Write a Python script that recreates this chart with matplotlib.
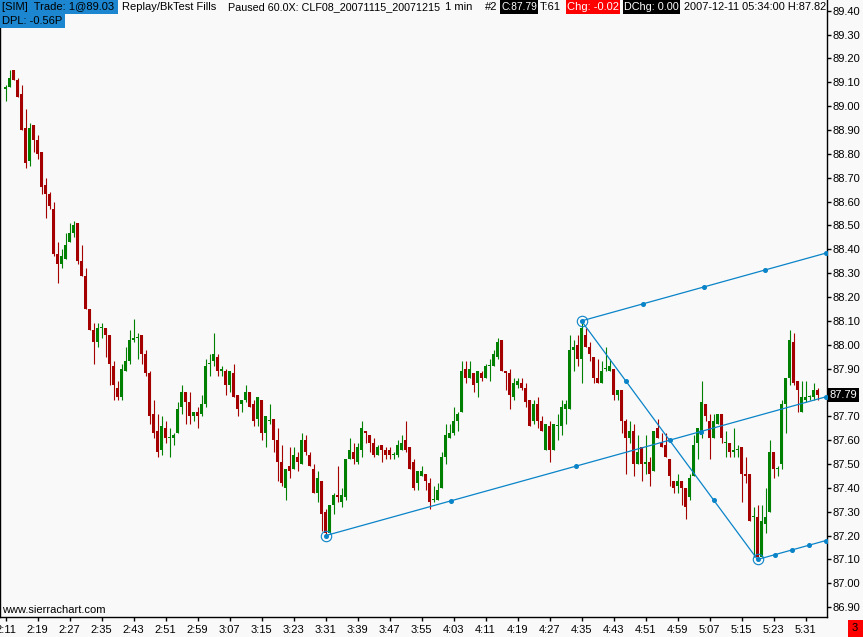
import numpy as np
import matplotlib
matplotlib.use("Agg")
import matplotlib.pyplot as plt
from matplotlib.patches import Rectangle

# CLF08 1 min bars, 2007-12-11 02:11 .. 05:34
opens = [
    89.07, 89.08, 89.15, 89.11, 89.05, 88.91, 88.77, 88.92, 88.86, 88.81,
    88.67, 88.63, 88.57, 88.38, 88.34, 88.36, 88.43, 88.47, 88.51, 88.35,
    88.29, 88.15, 88.06, 88.01, 88.07, 88.07, 88.04, 87.91, 87.82, 87.78,
    87.89, 87.93, 88.02, 88.03, 88.04, 87.96, 87.88, 87.71, 87.64, 87.56,
    87.65, 87.61, 87.61, 87.63, 87.74, 87.80, 87.76, 87.70, 87.72, 87.71,
    87.75, 87.92, 87.93, 87.95, 87.89, 87.89, 87.83, 87.88, 87.79, 87.75,
    87.77, 87.80, 87.75, 87.69, 87.77, 87.63, 87.68, 87.69, 87.60, 87.51,
    87.40, 87.49, 87.48, 87.53, 87.50, 87.60, 87.54, 87.48, 87.38, 87.43,
    87.30, 87.21, 87.33, 87.37, 87.34, 87.36, 87.52, 87.55, 87.51, 87.56,
    87.64, 87.62, 87.59, 87.54, 87.58, 87.56, 87.56, 87.54, 87.54, 87.56,
    87.60, 87.57, 87.51, 87.42, 87.45, 87.46, 87.42, 87.35, 87.35, 87.40,
    87.53, 87.61, 87.63, 87.68, 87.72, 87.90, 87.86, 87.88, 87.84, 87.88,
    87.86, 87.91, 87.91, 87.95, 88.02, 87.89, 87.88, 87.78, 87.83, 87.84,
    87.82, 87.77, 87.68, 87.75, 87.68, 87.56, 87.66, 87.56, 87.66, 87.66,
    87.73, 87.73, 87.98, 88.00, 87.94, 88.04, 87.99, 87.95, 87.86, 87.84,
    87.90, 87.89, 87.90, 87.79, 87.81, 87.68, 87.61, 87.64, 87.50, 87.57,
    87.50, 87.51, 87.47, 87.65, 87.59, 87.58, 87.52, 87.43, 87.41, 87.43,
    87.40, 87.36, 87.45, 87.59, 87.62, 87.75, 87.68, 87.61, 87.67, 87.71,
    87.59, 87.59, 87.55, 87.56, 87.57, 87.46, 87.46, 87.28, 87.28, 87.11,
    87.25, 87.30, 87.55, 87.48, 87.50, 87.75, 87.86, 88.01, 87.85, 87.72,
    87.77, 87.78, 87.78, 87.81,
]
highs = [
    89.09, 89.15, 89.15, 89.12, 89.09, 88.99, 88.93, 88.92, 88.88, 88.81,
    88.70, 88.64, 88.60, 88.43, 88.40, 88.47, 88.51, 88.52, 88.51, 88.42,
    88.32, 88.15, 88.09, 88.09, 88.09, 88.07, 88.04, 87.93, 87.85, 87.92,
    87.99, 88.06, 88.11, 88.05, 88.04, 87.98, 87.89, 87.77, 87.71, 87.70,
    87.68, 87.65, 87.63, 87.76, 87.83, 87.80, 87.80, 87.72, 87.74, 87.79,
    87.94, 87.96, 88.05, 87.96, 87.91, 87.90, 87.89, 87.92, 87.79, 87.77,
    87.83, 87.80, 87.77, 87.78, 87.77, 87.70, 87.75, 87.69, 87.65, 87.58,
    87.48, 87.57, 87.57, 87.55, 87.63, 87.62, 87.55, 87.50, 87.47, 87.43,
    87.31, 87.33, 87.38, 87.49, 87.40, 87.52, 87.61, 87.59, 87.59, 87.68,
    87.64, 87.62, 87.61, 87.58, 87.58, 87.57, 87.57, 87.55, 87.60, 87.62,
    87.68, 87.57, 87.52, 87.47, 87.49, 87.46, 87.44, 87.41, 87.42, 87.55,
    87.67, 87.67, 87.74, 87.72, 87.93, 87.93, 87.93, 87.88, 87.89, 87.89,
    87.92, 87.94, 87.98, 88.03, 88.02, 87.89, 87.90, 87.86, 87.86, 87.86,
    87.84, 87.77, 87.77, 87.78, 87.70, 87.67, 87.68, 87.67, 87.71, 87.77,
    87.77, 88.04, 88.02, 88.04, 88.10, 88.07, 88.01, 87.95, 87.94, 87.93,
    87.99, 87.94, 87.90, 87.81, 87.81, 87.69, 87.68, 87.67, 87.62, 87.57,
    87.62, 87.53, 87.64, 87.69, 87.63, 87.63, 87.52, 87.43, 87.46, 87.43,
    87.40, 87.46, 87.62, 87.65, 87.85, 87.75, 87.71, 87.71, 87.71, 87.71,
    87.64, 87.59, 87.65, 87.58, 87.57, 87.53, 87.46, 87.32, 87.33, 87.33,
    87.40, 87.60, 87.55, 87.49, 87.77, 87.86, 88.06, 88.05, 87.85, 87.85,
    87.85, 87.79, 87.84, 87.82,
]
lows = [
    89.02, 89.08, 89.11, 89.04, 88.90, 88.74, 88.75, 88.81, 88.78, 88.63,
    88.53, 88.57, 88.37, 88.26, 88.32, 88.36, 88.43, 88.45, 88.34, 88.29,
    88.15, 88.06, 87.92, 87.99, 88.03, 87.95, 87.83, 87.77, 87.77, 87.77,
    87.89, 87.92, 88.01, 87.94, 87.92, 87.87, 87.67, 87.61, 87.53, 87.54,
    87.59, 87.53, 87.58, 87.63, 87.71, 87.67, 87.67, 87.68, 87.65, 87.70,
    87.74, 87.87, 87.91, 87.87, 87.87, 87.79, 87.80, 87.78, 87.70, 87.72,
    87.76, 87.74, 87.66, 87.66, 87.60, 87.57, 87.67, 87.55, 87.43, 87.41,
    87.35, 87.44, 87.48, 87.47, 87.50, 87.54, 87.49, 87.38, 87.34, 87.22,
    87.20, 87.21, 87.29, 87.34, 87.32, 87.35, 87.52, 87.50, 87.50, 87.53,
    87.59, 87.55, 87.53, 87.54, 87.51, 87.52, 87.52, 87.52, 87.53, 87.56,
    87.55, 87.48, 87.39, 87.39, 87.45, 87.39, 87.31, 87.34, 87.35, 87.40,
    87.50, 87.61, 87.62, 87.64, 87.72, 87.84, 87.86, 87.80, 87.78, 87.85,
    87.86, 87.85, 87.91, 87.94, 87.89, 87.81, 87.73, 87.77, 87.82, 87.81,
    87.74, 87.66, 87.67, 87.65, 87.64, 87.56, 87.51, 87.56, 87.60, 87.62,
    87.67, 87.73, 87.89, 87.91, 87.84, 87.99, 87.93, 87.84, 87.84, 87.84,
    87.89, 87.89, 87.77, 87.77, 87.63, 87.46, 87.59, 87.45, 87.50, 87.43,
    87.46, 87.41, 87.47, 87.61, 87.57, 87.53, 87.41, 87.38, 87.38, 87.33,
    87.27, 87.35, 87.45, 87.52, 87.61, 87.68, 87.52, 87.61, 87.67, 87.59,
    87.53, 87.53, 87.53, 87.53, 87.34, 87.42, 87.26, 87.11, 87.10, 87.11,
    87.21, 87.30, 87.44, 87.45, 87.48, 87.63, 87.83, 87.83, 87.72, 87.72,
    87.76, 87.77, 87.77, 87.77,
]
closes = [
    89.08, 89.12, 89.11, 89.04, 88.90, 88.76, 88.91, 88.86, 88.80, 88.66,
    88.63, 88.58, 88.38, 88.34, 88.37, 88.42, 88.47, 88.50, 88.35, 88.29,
    88.15, 88.06, 88.01, 88.07, 88.07, 88.04, 87.92, 87.83, 87.78, 87.90,
    87.93, 88.02, 88.03, 88.03, 87.96, 87.88, 87.70, 87.63, 87.55, 87.66,
    87.61, 87.61, 87.62, 87.73, 87.80, 87.76, 87.70, 87.72, 87.70, 87.75,
    87.91, 87.92, 87.96, 87.89, 87.90, 87.83, 87.89, 87.78, 87.73, 87.77,
    87.80, 87.74, 87.68, 87.78, 87.63, 87.70, 87.68, 87.60, 87.51, 87.42,
    87.48, 87.47, 87.54, 87.51, 87.60, 87.55, 87.49, 87.38, 87.44, 87.29,
    87.21, 87.33, 87.37, 87.36, 87.37, 87.52, 87.56, 87.52, 87.57, 87.65,
    87.63, 87.59, 87.54, 87.57, 87.56, 87.54, 87.54, 87.54, 87.58, 87.59,
    87.56, 87.48, 87.40, 87.47, 87.47, 87.43, 87.34, 87.35, 87.39, 87.53,
    87.62, 87.63, 87.68, 87.71, 87.89, 87.86, 87.90, 87.83, 87.89, 87.86,
    87.91, 87.91, 87.96, 88.01, 87.89, 87.88, 87.79, 87.84, 87.85, 87.82,
    87.76, 87.66, 87.75, 87.68, 87.64, 87.67, 87.56, 87.67, 87.66, 87.74,
    87.75, 87.98, 87.99, 87.94, 88.07, 87.99, 87.96, 87.86, 87.84, 87.89,
    87.90, 87.91, 87.79, 87.81, 87.68, 87.61, 87.64, 87.50, 87.55, 87.50,
    87.51, 87.46, 87.64, 87.61, 87.57, 87.53, 87.45, 87.40, 87.43, 87.40,
    87.32, 87.44, 87.58, 87.65, 87.76, 87.70, 87.61, 87.68, 87.71, 87.61,
    87.59, 87.55, 87.56, 87.56, 87.46, 87.45, 87.26, 87.28, 87.11, 87.26,
    87.28, 87.55, 87.48, 87.48, 87.75, 87.86, 88.02, 87.84, 87.81, 87.78,
    87.78, 87.78, 87.81, 87.79,
]

# time labels every 8 bars, starting at bar 0 (2:11)
tick_labels = ['2:11', '2:19', '2:27', '2:35', '2:43', '2:51', '2:59', '3:07',
               '3:15', '3:23', '3:31', '3:39', '3:47', '3:55', '4:03', '4:11',
               '4:19', '4:27', '4:35', '4:43', '4:51', '4:59', '5:07', '5:15',
               '5:23', '5:31']

# pitchfork anchor points: (bar index, price)
fork_a = (80, 87.20)   # 3:31
fork_b = (144, 88.10)  # 4:35
fork_c = (188, 87.10)  # 5:19

BG = '#f9f9f9'
GREEN = '#008000'
RED = '#a50000'
BLUE = '#0a84c8'
HDR_BLUE = '#1c86d0'

plt.rcParams['font.family'] = ['Liberation Sans', 'DejaVu Sans']
plt.rcParams['font.size'] = 8

W, H = 863, 637
fig = plt.figure(figsize=(W / 100, H / 100), dpi=100)
fig.patch.set_facecolor(BG)
ax = fig.add_axes([0, 20 / H, 826.7 / W, 617 / H])
ax.set_facecolor(BG)

o = np.array(opens)
hi = np.array(highs)
lo = np.array(lows)
c = np.array(closes)
idx = np.arange(len(o))
col = np.where(c >= o, GREEN, RED)

ax.vlines(idx, lo, hi, colors=col, linewidth=0.8)
body_lo = np.minimum(o, c)
body_h = np.maximum(np.abs(c - o), 0.004)
ax.bar(idx, body_h, bottom=body_lo, width=0.75, color=col, linewidth=0)

ax.set_xlim(-1.375, 205.3)
ax.set_ylim(86.859, 89.445)

# Andrew's pitchfork
mid = ((fork_b[0] + fork_c[0]) / 2, (fork_b[1] + fork_c[1]) / 2)
slope = (mid[1] - fork_a[1]) / (mid[0] - fork_a[0])
x_end = 205.0


def fork_line(p0, x1):
    xs = np.array([p0[0], x1])
    ys = p0[1] + slope * (xs - p0[0])
    ax.plot(xs, ys, color=BLUE, lw=0.9, zorder=4)
    q = p0[0] + (x1 - p0[0]) * np.array([0.25, 0.5, 0.75, 1.0])
    ax.plot(q, p0[1] + slope * (q - p0[0]), 'o', color=BLUE, ms=2.6, zorder=5)


fork_line(fork_a, x_end)
fork_line(fork_b, x_end)
fork_line(fork_c, x_end)

ax.plot([fork_b[0], fork_c[0]], [fork_b[1], fork_c[1]], color=BLUE, lw=0.9, zorder=4)
t = np.array([0.25, 0.5, 0.75])
ax.plot(fork_b[0] + t * (fork_c[0] - fork_b[0]), fork_b[1] + t * (fork_c[1] - fork_b[1]),
        'o', color=BLUE, ms=2.6, zorder=5)
for p in (fork_a, fork_b, fork_c):
    ax.plot(*p, 'o', mfc='none', mec=BLUE, ms=7.5, mew=0.8, zorder=5)
    ax.plot(*p, 'o', color=BLUE, ms=2.6, zorder=5)

# axes styling
for s in ('left', 'bottom', 'right'):
    ax.spines[s].set_color('black')
    ax.spines[s].set_linewidth(1.0)
ax.spines['top'].set_visible(False)

last = c[-1]
yt = np.round(np.arange(86.90, 89.401, 0.10), 2)
ax.set_yticks(yt)
# the label hidden behind the last-price marker is left blank
ax.set_yticklabels(['' if abs(v - last) < 0.03 else f'{v:.2f}' for v in yt])
ax.yaxis.tick_right()
ax.tick_params(axis='y', direction='out', length=3, width=1, pad=1.5,
               labelsize=8, colors='black')

ax.set_xticks(np.arange(0, 8 * len(tick_labels), 8))
ax.set_xticklabels(tick_labels)
ax.tick_params(axis='x', direction='out', length=3, width=1, pad=3,
               labelsize=8, colors='black')

# last price marker on the price scale
ax.annotate(f'{last:.2f}', xy=(1, last), xycoords=('axes fraction', 'data'),
            xytext=(3, 0), textcoords='offset pixels', ha='left', va='center',
            color='white', fontsize=8, zorder=6, annotation_clip=False,
            bbox=dict(boxstyle='square,pad=0.18', fc='black', ec='none'))

renderer = fig.canvas.get_renderer()


# header
def box(x0, y0, x1, y1, color):
    fig.add_artist(Rectangle((x0 / W, 1 - y1 / H), (x1 - x0) / W, (y1 - y0) / H,
                             transform=fig.transFigure, fc=color, ec='none', zorder=2))


def label(x, y, s, color='black', max_w=None):
    txt = fig.text(x / W, 1 - y / H, s, ha='left', va='center', color=color,
                   fontsize=8, zorder=3)
    if max_w is not None:
        w = txt.get_window_extent(renderer).width
        if w > max_w:
            txt.set_fontsize(8 * max_w / w)
    return txt


box(0, 0, 118, 14, HDR_BLUE)
label(2, 7, '[SIM]  Trade: 1@89.03', max_w=114)
label(122, 7, 'Replay/BkTest Fills', max_w=98)
label(228, 7, 'Paused 60.0X: CLF08_20071115_20071215', max_w=211)
label(445, 7, '1 min', max_w=30)
label(485, 7, '#2')
box(500, 0, 538, 14, 'black')
label(501, 7, 'C:87.79', 'white', max_w=36)
label(540, 7, 'T:61', max_w=23)
box(566, 0, 620, 14, '#ff0000')
label(567, 7, 'Chg: -0.02', 'white', max_w=52)
box(623, 0, 680, 14, 'black')
label(624, 7, 'DChg: 0.00', 'white', max_w=55)
label(684, 7, '2007-12-11 05:34:00 H:87.82', max_w=143)
box(0, 14, 65, 28, HDR_BLUE)
label(2, 21, 'DPL: -0.56P', max_w=62)

label(2, 610, 'www.sierrachart.com')
box(848, 620, 863, 637, '#ff0000')
label(852, 628, '3')

fig.savefig('out.png', dpi=100, facecolor=BG)
